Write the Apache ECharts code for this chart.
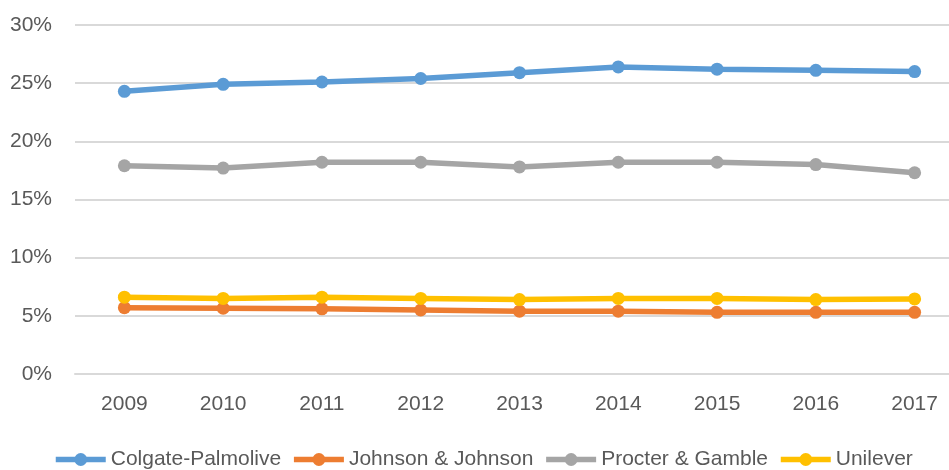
<!DOCTYPE html>
<html>
<head>
<meta charset="utf-8">
<script src="https://cdn.jsdelivr.net/npm/echarts@6/dist/echarts.min.js"></script>
<style>
  html, body { margin: 0; padding: 0; background: #fff; }
  #main { width: 949px; height: 470px; }
</style>
</head>
<body>
<div id="main"></div>
<script>
// years on the x axis
var years = ['2009', '2010', '2011', '2012', '2013', '2014', '2015', '2016', '2017'];
// values in percent
var colgate = [24.3, 24.9, 25.1, 25.4, 25.9, 26.4, 26.2, 26.1, 26.0];
var johnson = [5.7, 5.65, 5.6, 5.5, 5.4, 5.4, 5.3, 5.3, 5.3];
var procter = [17.9, 17.7, 18.2, 18.2, 17.8, 18.2, 18.2, 18.0, 17.3];
var unilever = [6.6, 6.5, 6.6, 6.5, 6.4, 6.5, 6.5, 6.4, 6.45];

var colorList = ['#5B9BD5', '#ED7D31', '#A5A5A5', '#FFC000'];
var font = '"Liberation Sans", Arial, sans-serif';

function makeLine(name, data, color) {
  return {
    name: name,
    type: 'line',
    data: data,
    symbol: 'circle',
    symbolSize: 13,
    showSymbol: true,
    lineStyle: { width: 5.5, color: color },
    itemStyle: { color: color, borderWidth: 0 },
    emphasis: { disabled: true }
  };
}

var myChart = echarts.init(document.getElementById('main'));
var option = {
  backgroundColor: '#fff',
  animation: false,
  legend: {
    left: 48,
    top: 444,
    itemWidth: 50,
    itemHeight: 16,
    itemGap: 10,
    lineStyle: { width: 5.5 },
    textStyle: { fontFamily: font, fontSize: 21, color: '#595959' }
  },
  grid: {
    left: 75,
    width: 889,
    top: 25,
    bottom: 96,
    outerBoundsMode: 'none'
  },
  xAxis: {
    type: 'category',
    data: years,
    axisLine: { show: true, lineStyle: { color: '#d9d9d9', width: 2 } },
    axisTick: { show: false },
    axisLabel: { margin: 20, fontFamily: font, fontSize: 21, color: '#595959' },
    splitLine: { show: false }
  },
  yAxis: {
    type: 'value',
    min: 0,
    max: 30,
    interval: 5,
    axisLine: { show: false },
    axisTick: { show: false },
    axisLabel: {
      margin: 23,
      fontFamily: font,
      fontSize: 21,
      color: '#595959',
      formatter: '{value}%'
    },
    splitLine: { lineStyle: { color: '#d9d9d9', width: 2 } }
  },
  series: [
    makeLine('Colgate-Palmolive', colgate, colorList[0]),
    makeLine('Johnson & Johnson', johnson, colorList[1]),
    makeLine('Procter & Gamble', procter, colorList[2]),
    makeLine('Unilever', unilever, colorList[3])
  ]
};
myChart.setOption(option);
</script>
</body>
</html>
